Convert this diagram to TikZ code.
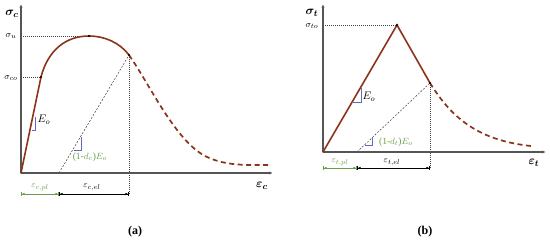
\documentclass[tikz,border=0pt]{standalone}
\usepackage{amsmath}
\usepackage{fontspec}
\setmainfont{Liberation Serif}
\usetikzlibrary{arrows.meta}
\definecolor{curvec}{RGB}{140,52,25}
\definecolor{axisgray}{RGB}{85,85,85}
\definecolor{lblgreen}{RGB}{105,160,70}
\definecolor{tric}{RGB}{95,105,190}
\begin{document}
\begin{tikzpicture}[x=1pt,y=-1pt,
  axisline/.style={draw=axisgray, line width=1.1pt, -{Latex[length=4pt,width=3.2pt]}},
  curvesolid/.style={draw=curvec, line width=1.6pt, line cap=round},
  curvedash/.style={draw=curvec, line width=1.7pt, dash pattern=on 5pt off 3.5pt},
  guide/.style={draw=black!75, line width=0.45pt, dash pattern=on 1pt off 1pt},
  unload/.style={draw=black!80, line width=0.45pt, dash pattern=on 2pt off 1.5pt},
  slopetri/.style={draw=tric, line width=0.5pt},
  dimline/.style={line width=0.55pt, {Bar[width=4pt]Latex[length=3pt,width=2.4pt]}-{Latex[length=3pt,width=2.4pt]Bar[width=4pt]}},
  pdot/.style={circle, fill=black, inner sep=0pt, minimum size=2.4pt},
  lbl/.style={inner sep=0pt, font=\fontsize{9.5}{9.5}\selectfont},
  elbl/.style={inner sep=0pt, font=\fontsize{11}{11}\selectfont},
  axlbl/.style={inner sep=0pt, font=\fontsize{13}{13}\selectfont},
  captxt/.style={inner sep=0pt, font=\fontsize{12}{12}\selectfont\bfseries}]
\useasboundingbox (0,0) rectangle (550,242);

% ---------------- panel (a) ----------------
\coordinate (oA) at (21,173);
\coordinate (yA) at (21,4);
\coordinate (xA) at (273,173);
\coordinate (coA) at (41,77);
\coordinate (uA) at (89,36);
\coordinate (dA) at (129,55);
\coordinate (plA) at (59,173);
\coordinate (suA) at (21,36);
\coordinate (scA) at (21,77);
\coordinate (eA) at (268,165);
\coordinate (dimA0) at (21,194);
\coordinate (dimA1) at (59,194);
\coordinate (dimA2) at (129,194);

\draw[guide] (suA) -- (uA);
\draw[guide] (scA) -- (coA);
\draw[guide] (dA) -- (dimA2);
\draw[unload] (plA) -- (dA);
\draw[axisline] (oA) -- (yA);
\draw[axisline] (oA) -- (xA);
\draw[curvesolid] (oA) -- (coA) .. controls (48,50) and (66,36) .. (uA)
  .. controls (105,36) and (120,43) .. (dA);
\draw[curvedash] (dA) .. controls (150,85) and (175,140) .. (205,156)
  .. controls (225,166) and (245,165) .. (eA);
\node[pdot] (pcoA) at (coA) {};
\node[pdot] (puA) at (uA) {};
\node[pdot] (pdA) at (dA) {};

\draw[slopetri] (31.7,130) -- (35,130) -- (35,117);
\draw[slopetri] (74,150) -- (81.7,150) -- (81.7,136.5);

\node[axlbl] (sigc) at (12,14) {$\boldsymbol{\sigma_c}$};
\node[lbl] (sigu) at (11,36) {$\sigma_u$};
\node[lbl] (sigco) at (11,78) {$\sigma_{co}$};
\node[axlbl] (epsc) at (262,186) {$\boldsymbol{\varepsilon_c}$};
\node[elbl] (EoA) at (44,120) {$E_o$};
\node[lbl, text=lblgreen] (dcA) at (90,157.5) {(1-$d_c$)$E_o$};
\node[lbl, text=lblgreen] (eplA) at (40,187) {$\varepsilon_{c,pl}$};
\node[lbl] (eelA) at (92,187) {$\varepsilon_{c,el}$};
\draw[dimline, draw=lblgreen] (dimA0) -- (dimA1);
\draw[dimline, draw=black] (dimA1) -- (dimA2);
\node[captxt] (capA) at (135,232) {(a)};

% ---------------- panel (b) ----------------
\coordinate (oB) at (323,152);
\coordinate (yB) at (323,4);
\coordinate (xB) at (546,152);
\coordinate (pkB) at (397,25);
\coordinate (dB) at (430,83);
\coordinate (plB) at (357,152);
\coordinate (stB) at (323,25);
\coordinate (eB) at (531,146);
\coordinate (dimB0) at (323,168);
\coordinate (dimB1) at (357,168);
\coordinate (dimB2) at (430,168);

\draw[guide] (stB) -- (pkB);
\draw[guide] (dB) -- (dimB2);
\draw[unload] (plB) -- (dB);
\draw[axisline, line width=1.4pt] (oB) -- (yB);
\draw[axisline, line width=1.4pt] (oB) -- (xB);
\draw[curvesolid] (oB) -- (pkB) -- (dB);
\draw[curvedash] (dB) .. controls (450,115) and (475,140) .. (eB);
\node[pdot] (ppkB) at (pkB) {};
\node[pdot] (pdB) at (dB) {};

\draw[slopetri] (352,102.7) -- (361.7,102.7) -- (361.7,88.3);
\draw[slopetri] (364.5,145) -- (372.7,145) -- (372.7,137.3);

\node[axlbl] (sigt) at (312,13) {$\boldsymbol{\sigma_t}$};
\node[lbl] (sigto) at (312,26) {$\sigma_{to}$};
\node[axlbl] (epst) at (534,163) {$\boldsymbol{\varepsilon_t}$};
\node[elbl] (EoB) at (369,97) {$E_o$};
\node[lbl, text=lblgreen] (dtB) at (396,142) {(1-$d_t$)$E_o$};
\node[lbl, text=lblgreen] (eplB) at (340,162) {$\varepsilon_{t,pl}$};
\node[lbl] (eelB) at (392,162) {$\varepsilon_{t,el}$};
\draw[dimline, draw=lblgreen] (dimB0) -- (dimB1);
\draw[dimline, draw=black] (dimB1) -- (dimB2);
\node[captxt] (capB) at (425,232) {(b)};
\end{tikzpicture}
\end{document}
